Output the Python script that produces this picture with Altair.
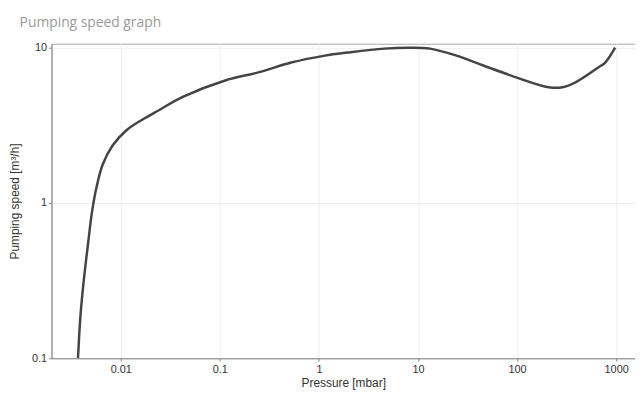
import altair as alt
import pandas as pd

pressure = [0.0037, 0.0039, 0.0041, 0.00437, 0.00468, 0.00513, 0.00575, 0.0066, 0.0083, 0.0115,
            0.0166, 0.0245, 0.0417, 0.115, 0.245, 0.525, 1.15, 1.95, 4.57, 8.3,
            13.2, 24.5, 45.7, 97.7, 209, 288, 389, 661, 776, 977]
speed = [0.1, 0.18, 0.26, 0.38, 0.55, 0.88, 1.3, 1.78, 2.35, 2.95,
         3.45, 3.97, 4.8, 6.17, 6.93, 8.02, 8.89, 9.3, 9.86, 10.0,
         9.86, 8.89, 7.68, 6.44, 5.56, 5.56, 5.98, 7.46, 8.02, 10.0]

x_ticks = [0.01, 0.1, 1, 10, 100, 1000]
y_ticks = [0.1, 1, 10]

df = pd.DataFrame({"pressure": pressure, "speed": speed})

chart = alt.Chart(df).mark_line(
    color="#444444", strokeWidth=2.5, interpolate="catmull-rom", clip=True
).encode(
    x=alt.X("pressure:Q", title="Pressure [mbar]",
            scale=alt.Scale(type="log", domain=[0.002, 1550], nice=False),
            axis=alt.Axis(values=x_ticks, format="~g", labelFlush=False)),
    y=alt.Y("speed:Q", title="Pumping speed [m³/h]",
            scale=alt.Scale(type="log", domain=[0.1, 10.6], nice=False),
            axis=alt.Axis(values=y_ticks, format="~g", labelFlush=False)),
).properties(
    width=590, height=318,
    title=alt.TitleParams("Pumping speed graph", anchor="start", dx=11,
                          font="Open Sans", fontSize=14, fontWeight="normal",
                          color="#9a9a9a", offset=12),
    padding={"left": 0, "top": 5, "right": 0, "bottom": 0},
).configure_axis(
    labelFont="Liberation Sans", labelFontSize=11, labelColor="#333333",
    titleFont="Liberation Sans", titleFontSize=12, titleColor="#333333",
    titleFontWeight="normal",
    domainColor="#888888", tickColor="#888888", tickSize=3, labelPadding=2,
    gridColor="#eeeeee",
).configure_axisY(
    titlePadding=10,
).configure_axisX(
    titlePadding=4,
).configure_view(
    stroke="#aaaaaa",
)

chart.save("out.html", embed_options={"renderer": "svg", "actions": False})
